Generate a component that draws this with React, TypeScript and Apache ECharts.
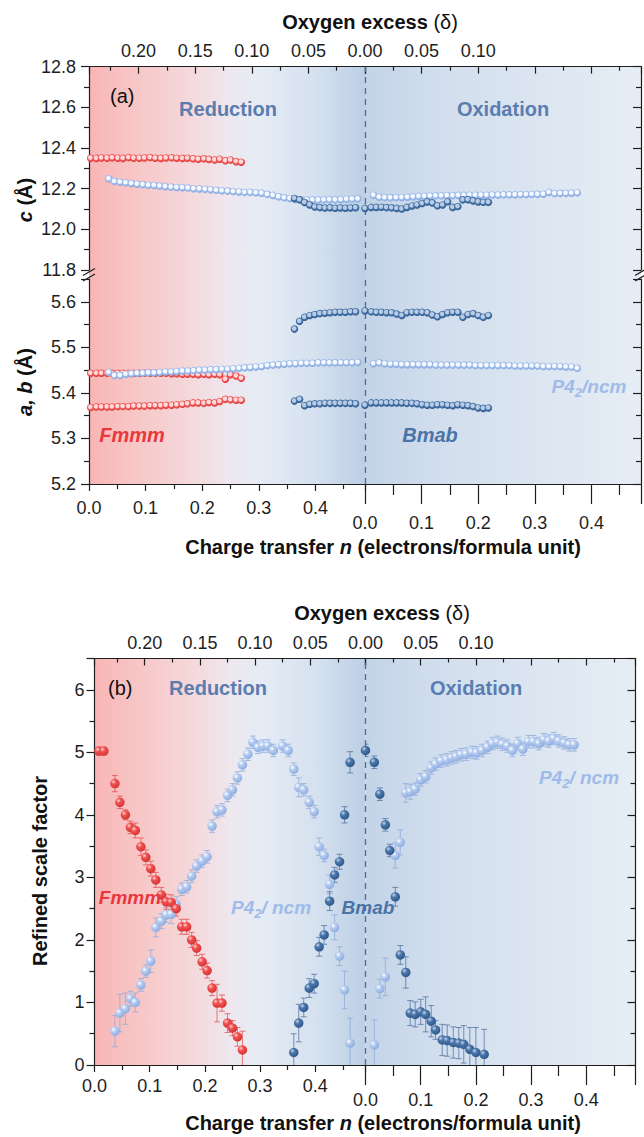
import React, { useEffect, useRef } from "react";
import * as echarts from "echarts";

// ---------------- Panel (a): lattice parameters ----------------
// Fmmm (reduction)
const aFmmmN = [0.003,0.013,0.022,0.032,0.041,0.051,0.060,0.070,0.079,0.089,
  0.098,0.108,0.117,0.127,0.136,0.146,0.155,0.165,0.174,0.184,
  0.193,0.203,0.212,0.222,0.231,0.241,0.250,0.260,0.269];
const aFmmmC = [12.350,12.349,12.351,12.350,12.352,12.350,12.349,12.353,12.350,12.350,
  12.351,12.353,12.350,12.349,12.351,12.352,12.350,12.349,12.350,12.347,
  12.345,12.347,12.344,12.341,12.345,12.337,12.341,12.333,12.330];
const aFmmmA = [5.443,5.443,5.443,5.443,5.443,5.443,5.443,5.443,5.443,5.443,
  5.443,5.443,5.443,5.443,5.443,5.442,5.442,5.441,5.441,5.441,
  5.440,5.441,5.440,5.441,5.440,5.430,5.440,5.437,5.432];
const aFmmmB = [5.368,5.369,5.369,5.369,5.369,5.370,5.370,5.370,5.371,5.371,
  5.371,5.372,5.372,5.372,5.373,5.373,5.374,5.375,5.376,5.378,
  5.378,5.377,5.379,5.378,5.381,5.386,5.385,5.384,5.384];
// P42/ncm (reduction)
const aP4RedN = [0.035,0.045,0.055,0.065,0.075,0.085,0.095,0.105,0.115,0.125,
  0.135,0.145,0.155,0.165,0.175,0.185,0.195,0.205,0.215,0.225,
  0.235,0.245,0.255,0.265,0.275,0.285,0.295,0.305,0.315,0.325,
  0.335,0.345,0.355,0.365,0.375,0.385,0.395,0.405,0.415,0.425,
  0.435,0.445,0.455,0.465,0.475];
const aP4RedC = [12.249,12.236,12.232,12.229,12.226,12.222,12.220,12.217,12.216,12.213,
  12.210,12.208,12.206,12.205,12.203,12.200,12.199,12.197,12.195,12.192,
  12.190,12.188,12.186,12.184,12.182,12.182,12.180,12.178,12.172,12.167,
  12.160,12.155,12.152,12.147,12.145,12.144,12.145,12.144,12.145,12.146,
  12.145,12.146,12.148,12.149,12.150];
const aP4RedA = [5.445,5.438,5.438,5.441,5.442,5.443,5.443,5.444,5.444,5.445,
  5.446,5.446,5.447,5.448,5.448,5.449,5.450,5.450,5.451,5.451,
  5.452,5.452,5.453,5.454,5.455,5.456,5.457,5.458,5.460,5.461,
  5.462,5.463,5.464,5.464,5.465,5.465,5.465,5.466,5.466,5.466,
  5.466,5.466,5.466,5.466,5.467];
// Bmab (reduction)
const aBmRedN = [0.363,0.372,0.381,0.390,0.399,0.408,0.417,0.426,0.435,0.444,0.453,0.462,0.471];
const aBmRedC = [12.152,12.145,12.132,12.120,12.110,12.107,12.105,12.106,12.104,12.105,12.104,12.105,12.106];
const aBmRedA = [5.540,5.557,5.566,5.570,5.572,5.574,5.575,5.576,5.577,5.577,5.577,5.578,5.578];
const aBmRedB = [5.382,5.386,5.372,5.375,5.376,5.376,5.377,5.377,5.377,5.377,5.377,5.377,5.376];
// Bmab (oxidation)
const aBmOxN = [0.000,0.011,0.020,0.029,0.038,0.047,0.056,0.065,0.074,0.083,
  0.092,0.101,0.110,0.119,0.128,0.137,0.146,0.155,0.164,0.173,
  0.182,0.191,0.200,0.209,0.218];
const aBmOxC = [12.103,12.108,12.108,12.109,12.107,12.106,12.103,12.100,12.108,12.115,
  12.120,12.127,12.135,12.130,12.116,12.120,12.136,12.108,12.112,12.145,
  12.146,12.140,12.135,12.133,12.133];
const aBmOxA = [5.580,5.578,5.577,5.577,5.576,5.576,5.573,5.570,5.576,5.577,
  5.577,5.577,5.576,5.571,5.567,5.572,5.576,5.577,5.577,5.566,
  5.572,5.574,5.570,5.566,5.570];
const aBmOxB = [5.373,5.378,5.378,5.378,5.378,5.378,5.378,5.378,5.377,5.377,
  5.376,5.374,5.373,5.373,5.374,5.374,5.373,5.372,5.374,5.373,
  5.372,5.370,5.367,5.366,5.367];
// P42/ncm (oxidation)
const aP4OxN = [0.015,0.025,0.035,0.045,0.055,0.065,0.075,0.085,0.095,0.105,
  0.115,0.125,0.135,0.145,0.155,0.165,0.175,0.185,0.195,0.205,
  0.215,0.225,0.235,0.245,0.255,0.265,0.275,0.285,0.295,0.305,
  0.315,0.325,0.335,0.345,0.355,0.365,0.375];
const aP4OxC = [12.168,12.158,12.156,12.155,12.156,12.157,12.158,12.160,12.162,12.163,
  12.164,12.165,12.165,12.166,12.166,12.167,12.167,12.168,12.168,12.168,
  12.168,12.169,12.169,12.170,12.170,12.170,12.171,12.171,12.172,12.172,
  12.173,12.182,12.176,12.177,12.177,12.178,12.180];
const aP4OxA = [5.464,5.466,5.464,5.463,5.463,5.462,5.462,5.462,5.462,5.462,
  5.462,5.461,5.461,5.461,5.461,5.461,5.461,5.461,5.460,5.460,
  5.460,5.460,5.460,5.460,5.460,5.459,5.459,5.459,5.459,5.459,
  5.458,5.458,5.458,5.458,5.457,5.457,5.454];

// ---------------- Panel (b): refined scale factor ----------------
const bFmmmN = [0.008,0.017,0.037,0.046,0.056,0.065,0.074,0.084,0.093,0.102,
  0.111,0.121,0.130,0.139,0.148,0.158,0.167,0.176,0.185,0.195,
  0.204,0.213,0.222,0.231,0.241,0.250,0.259,0.268];
const bFmmmV = [5.02,5.02,4.50,4.20,4.00,3.80,3.75,3.49,3.32,3.14,
  2.96,2.72,2.61,2.60,2.50,2.21,2.21,2.00,1.87,1.65,
  1.51,1.23,0.99,0.99,0.67,0.59,0.45,0.24];
const bFmmmE = [0.06,0.06,0.13,0.10,0.08,0.10,0.12,0.14,0.12,0.12,
  0.12,0.12,0.12,0.12,0.12,0.12,0.12,0.12,0.12,0.12,
  0.12,0.12,0.30,0.13,0.15,0.12,0.15,0.30];
const bP4RedN = [0.037,0.046,0.056,0.065,0.074,0.084,0.093,0.102,
  0.111,0.121,0.130,0.139,0.148,0.158,0.167,0.176,0.185,0.195,
  0.204,0.213,0.222,0.231,0.241,0.250,0.259,0.268,0.278,0.287,
  0.296,0.305,0.314,0.324,0.341,0.351,0.361,0.370,0.379,0.389,
  0.398,0.407,0.416,0.426,0.435,0.444,0.453,0.463];
const bP4RedV = [0.54,0.83,0.90,1.06,1.00,1.28,1.50,1.66,
  2.20,2.30,2.40,2.41,2.57,2.81,2.85,3.02,3.18,3.26,
  3.33,3.82,4.05,4.08,4.31,4.40,4.59,4.80,4.97,5.16,
  5.08,5.10,5.10,5.03,5.10,5.03,4.73,4.44,4.40,4.20,
  4.05,3.49,3.35,2.89,2.20,1.74,1.20,0.35];
const bP4RedE = [0.25,0.30,0.25,0.12,0.15,0.10,0.10,0.18,
  0.15,0.12,0.12,0.15,0.12,0.10,0.10,0.10,0.10,0.10,
  0.10,0.10,0.10,0.10,0.10,0.10,0.10,0.10,0.10,0.10,
  0.10,0.10,0.10,0.10,0.10,0.10,0.10,0.15,0.10,0.10,
  0.10,0.14,0.10,0.15,0.20,0.15,0.30,0.40];
const bBmRedN = [0.361,0.370,0.379,0.389,0.398,0.407,0.416,0.426,0.435,0.444,0.453,0.463];
const bBmRedV = [0.20,0.67,0.92,1.23,1.30,1.89,2.08,2.62,3.04,3.25,4.00,4.84];
const bBmRedE = [0.30,0.30,0.15,0.15,0.15,0.15,0.15,0.15,0.12,0.12,0.13,0.17];
const bBmOxN = [0.000,0.016,0.026,0.036,0.044,0.054,0.063,0.073,0.081,0.090,
  0.100,0.109,0.119,0.127,0.139,0.148,0.159,0.169,0.178,0.189,
  0.200,0.215];
const bBmOxV = [5.03,4.84,4.33,3.84,3.43,2.69,1.76,1.48,0.83,0.81,
  0.85,0.81,0.70,0.56,0.40,0.39,0.36,0.35,0.33,0.25,
  0.20,0.17];
const bBmOxE = [0.10,0.10,0.10,0.10,0.10,0.15,0.15,0.25,0.20,0.20,
  0.20,0.28,0.25,0.15,0.25,0.25,0.25,0.25,0.30,0.35,
  0.40,0.40];
const bP4OxN = [0.016,0.026,0.036,0.054,0.063,0.073,0.081,0.090,0.100,0.109,
  0.119,0.127,0.137,0.147,0.156,0.164,0.173,0.182,0.193,0.201,
  0.211,0.221,0.230,0.239,0.248,0.257,0.266,0.276,0.285,0.295,
  0.304,0.314,0.323,0.332,0.341,0.350,0.360,0.369,0.378];
const bP4OxV = [0.32,1.22,1.41,3.35,3.56,4.35,4.37,4.41,4.56,4.61,
  4.75,4.81,4.86,4.88,4.91,4.93,4.96,4.97,5.00,4.99,
  5.03,5.08,5.14,5.16,5.13,5.10,5.03,5.14,5.05,5.17,
  5.17,5.14,5.20,5.18,5.22,5.18,5.15,5.12,5.12];
const bP4OxE = [0.40,0.15,0.30,0.20,0.20,0.15,0.12,0.10,0.10,0.10,
  0.10,0.10,0.10,0.10,0.10,0.10,0.10,0.10,0.10,0.10,
  0.10,0.10,0.10,0.10,0.10,0.10,0.10,0.10,0.10,0.10,
  0.10,0.10,0.10,0.10,0.10,0.10,0.10,0.10,0.10];

// ---------------- Tick labels ----------------
const nTickLabels = ["0.0", "0.1", "0.2", "0.3", "0.4"];
const deltaRedLabels = ["0.00", "0.05", "0.10", "0.15", "0.20"];
const deltaOxLabels = ["0.05", "0.10"];
const cTickLabels = ["11.8", "12.0", "12.2", "12.4", "12.6", "12.8"];
const abTickLabels = ["5.2", "5.3", "5.4", "5.5", "5.6"];
const scaleTickLabels = ["0", "1", "2", "3", "4", "5", "6"];

const FONT = '"Liberation Sans", Arial, sans-serif';
const RED = "#e8383d";
const LABELBLUE = "#5a7db0";

const pick = (list: string[], dec: number) => (v: number) => {
  const s = v.toFixed(dec);
  return list.includes(s) && Math.abs(v - Number(s)) < 1e-6 ? s : "";
};

const axisLineStyle = { color: "#1e1e1e", width: 1.2 };
const labelStyle = { color: "#1e1e1e", fontSize: 18, fontFamily: FONT };

function xN(gridIndex: number, max: number, tickLen: number, minorLen: number, margin: number) {
  return {
    type: "value", gridIndex, min: 0, max, interval: 0.1, position: "bottom",
    axisLine: { show: true, onZero: false, lineStyle: axisLineStyle },
    axisTick: { show: true, inside: false, length: tickLen, lineStyle: axisLineStyle },
    minorTick: { show: true, splitNumber: 2, length: minorLen, lineStyle: axisLineStyle },
    axisLabel: { ...labelStyle, margin, formatter: pick(nTickLabels, 1), showMaxLabel: false },
    splitLine: { show: false },
  };
}
function xHidden(gridIndex: number, max: number) {
  return { type: "value", gridIndex, min: 0, max, show: false, position: "bottom" };
}
function xDelta(gridIndex: number, max: number, inverse: boolean, list: string[]) {
  return {
    type: "value", gridIndex, min: 0, max, interval: 0.05, inverse, position: "top",
    axisLine: { show: true, onZero: false, lineStyle: axisLineStyle },
    axisTick: { show: true, inside: true, length: 7, lineStyle: axisLineStyle },
    minorTick: { show: true, splitNumber: 2, length: 4, lineStyle: axisLineStyle },
    axisLabel: { ...labelStyle, margin: 7, formatter: pick(list, 2) },
    splitLine: { show: false },
  };
}
function yAx(gridIndex: number, min: number, max: number, interval: number, side: string,
  showLabel: boolean, list: string[], dec: number, margin: number) {
  return {
    type: "value", gridIndex, min, max, interval, position: side,
    axisLine: { show: true, onZero: false, lineStyle: axisLineStyle },
    axisTick: { show: true, inside: side === "right", length: 8, lineStyle: axisLineStyle },
    minorTick: { show: true, splitNumber: 2, length: 5, lineStyle: axisLineStyle },
    axisLabel: { show: showLabel, ...labelStyle, margin, formatter: pick(list, dec), showMaxLabel: max % interval < 1e-9 },
    splitLine: { show: false },
  };
}

function ballA(c0: string, c1: string, c2: string) {
  return new echarts.graphic.RadialGradient(0.45, 0.42, 0.6, [
    { offset: 0, color: c0 }, { offset: 0.4, color: c0 }, { offset: 0.62, color: c1 }, { offset: 1, color: c2 },
  ]);
}
function ballB(c0: string, c1: string, c2: string) {
  return new echarts.graphic.RadialGradient(0.35, 0.32, 0.75, [
    { offset: 0, color: c0 }, { offset: 0.35, color: c1 }, { offset: 1, color: c2 },
  ]);
}

function scat(xs: number[], ys: number[], xi: number, yi: number, size: number, fill: any, z: number, extra: any = {}) {
  return {
    type: "scatter", xAxisIndex: xi, yAxisIndex: yi, symbol: "circle", symbolSize: size,
    data: xs.map((x, i) => [x, ys[i]]), itemStyle: { color: fill, opacity: 1 }, z, silent: true,
    ...extra,
  };
}
function errBars(xs: number[], ys: number[], es: number[], xi: number, yi: number, color: string) {
  return {
    type: "custom", xAxisIndex: xi, yAxisIndex: yi, silent: true, z: 1, clip: true,
    data: xs.map((x, i) => [x, ys[i], es[i]]),
    encode: { x: 0, y: 1 },
    renderItem: (params: any, api: any) => {
      const x = api.value(0), y = api.value(1), e = api.value(2);
      const t = api.coord([x, y + e]);
      const b = api.coord([x, y - e]);
      const cw = 3;
      const st = { stroke: color, lineWidth: 1 };
      return {
        type: "group",
        children: [
          { type: "line", shape: { x1: t[0], y1: t[1], x2: b[0], y2: b[1] }, style: st },
          { type: "line", shape: { x1: t[0] - cw, y1: t[1], x2: t[0] + cw, y2: t[1] }, style: st },
          { type: "line", shape: { x1: b[0] - cw, y1: b[1], x2: b[0] + cw, y2: b[1] }, style: st },
        ],
      };
    },
  };
}

const dashMark = {
  silent: true, symbol: "none", label: { show: false },
  lineStyle: { type: [6, 5], color: "#4d6d98", width: 1.3 },
  data: [{ xAxis: 0 }],
};

// layout
const A_L = 89, A_MID = 365, A_R = 641, A_TOP = 66.7, A_BRK1 = 270, A_BRK2 = 279, A_BOT = 484;
const B_L = 94.5, B_MID = 365.5, B_R = 635.5, B_TOP = 658.5, B_BOT = 1065;
const A_XR = (A_MID - A_L) / 566, A_XO = (A_R - A_MID) / 566;
const B_XR = (B_MID - B_L) / 552, B_XO = (B_R - B_MID) / 552;

function T(x: number, y: number, text: string, font: string, fill: string, align = "center", rich?: any, rotation = 0) {
  return {
    type: "text", x, y, z: 20, rotation,
    style: { text, font, fill, align, verticalAlign: "middle", textAlign: align, textVerticalAlign: "middle", rich },
  };
}

function buildOption() {
  const redA = ballA("#ffd9d9", "#f05656", "#d93a3a");
  const lbA = ballA("#f4f8ff", "#9ebbeb", "#86a6dc");
  const dbA = ballA("#b9cce6", "#4471a6", "#2e5a8c");
  const redB = ballB("#ffd0d0", "#ef5050", "#d43030");
  const lbB = ballB("#ffffff", "#b5cbf0", "#89a9de");
  const dbB = ballB("#c4d4ea", "#4a76aa", "#2c5488");

  const grad = (stops: [number, string][]) =>
    new echarts.graphic.LinearGradient(0, 0, 1, 0, stops.map(([o, c]) => ({ offset: o, color: c })));
  const redStops: [number, string][] = [[0, "#f8b5b5"], [0.12, "#f8c2c2"], [0.35, "#f5d7d9"], [0.5, "#eee7ee"], [0.62, "#e5ecf5"], [0.82, "#d5e1ef"], [1, "#bccfe4"]];
  const oxStops: [number, string][] = [[0, "#c3d4e8"], [0.3, "#d3dfee"], [1, "#e6edf5"]];

  const titleRich = {
    b: { font: `bold 20px ${FONT}`, fill: "#111" },
    i: { font: `italic bold 20px ${FONT}`, fill: "#111" },
    n: { font: `20px ${FONT}`, fill: "#111" },
  };
  const p4Rich = (color: string) => ({
    a: { font: `italic bold 19px ${FONT}`, fill: color, lineHeight: 26, verticalAlign: "middle" },
    s: { font: `italic bold 13px ${FONT}`, fill: color, lineHeight: 26, verticalAlign: "bottom" },
  });

  const breakLine = (x: number, y: number) => ({
    type: "line", z: 20, shape: { x1: x - 6, y1: y + 3.5, x2: x + 6, y2: y - 3.5 },
    style: { stroke: "#1e1e1e", lineWidth: 1.2 },
  });

  return {
    animation: false,
    textStyle: { fontFamily: FONT },
    grid: [
      { left: A_L, top: A_TOP, width: A_MID - A_L, height: A_BRK1 - A_TOP },
      { left: A_MID, top: A_TOP, width: A_R - A_MID, height: A_BRK1 - A_TOP },
      { left: A_L, top: A_BRK2, width: A_MID - A_L, height: A_BOT - A_BRK2 },
      { left: A_MID, top: A_BRK2, width: A_R - A_MID, height: A_BOT - A_BRK2 },
      { left: B_L, top: B_TOP, width: B_MID - B_L, height: B_BOT - B_TOP },
      { left: B_MID, top: B_TOP, width: B_R - B_MID, height: B_BOT - B_TOP },
    ],
    xAxis: [
      xHidden(0, A_XR),                          // 0
      xDelta(0, A_XR / 2, true, deltaRedLabels),  // 1
      xHidden(1, A_XO),                          // 2
      xDelta(1, A_XO / 2, false, deltaOxLabels),  // 3
      xN(2, A_XR, 7, 5, 15),                     // 4
      xN(3, A_XO, 20, 11, 30),                   // 5
      xN(4, B_XR, 7, 5, 12),                     // 6
      xDelta(4, B_XR / 2, true, deltaRedLabels),  // 7
      xN(5, B_XO, 20, 11, 26),                   // 8
      xDelta(5, B_XO / 2, false, deltaOxLabels),  // 9
    ],
    yAxis: [
      yAx(0, 11.8, 12.8, 0.2, "left", true, cTickLabels, 1, 13),
      yAx(1, 11.8, 12.8, 0.2, "right", false, cTickLabels, 1, 8),
      yAx(2, 5.2, 5.65, 0.1, "left", true, abTickLabels, 1, 13),
      yAx(3, 5.2, 5.65, 0.1, "right", false, abTickLabels, 1, 8),
      yAx(4, 0, 6.5, 1, "left", true, scaleTickLabels, 0, 10),
      yAx(5, 0, 6.5, 1, "right", false, scaleTickLabels, 0, 8),
    ],
    series: [
      // panel (a) upper: c
      scat(aFmmmN, aFmmmC, 0, 0, 7.5, redA, 3),
      scat(aP4RedN, aP4RedC, 0, 0, 7.5, lbA, 4),
      scat(aBmRedN, aBmRedC, 0, 0, 7.5, dbA, 5),
      scat(aP4OxN, aP4OxC, 2, 1, 7.5, lbA, 4),
      scat(aBmOxN, aBmOxC, 2, 1, 7.5, dbA, 5, { markLine: dashMark }),
      // panel (a) lower: a, b
      scat(aFmmmN, aFmmmA, 4, 2, 7.5, redA, 3),
      scat(aFmmmN, aFmmmB, 4, 2, 7.5, redA, 3),
      scat(aP4RedN, aP4RedA, 4, 2, 7.5, lbA, 4),
      scat(aBmRedN, aBmRedA, 4, 2, 7.5, dbA, 5),
      scat(aBmRedN, aBmRedB, 4, 2, 7.5, dbA, 5),
      scat(aP4OxN, aP4OxA, 5, 3, 7.5, lbA, 4),
      scat(aBmOxN, aBmOxA, 5, 3, 7.5, dbA, 5, { markLine: dashMark }),
      scat(aBmOxN, aBmOxB, 5, 3, 7.5, dbA, 5),
      // panel (b) error bars
      errBars(bP4RedN, bP4RedV, bP4RedE, 6, 4, "rgba(140,170,220,0.75)"),
      errBars(bFmmmN, bFmmmV, bFmmmE, 6, 4, "rgba(225,80,80,0.75)"),
      errBars(bBmRedN, bBmRedV, bBmRedE, 6, 4, "rgba(70,105,155,0.7)"),
      errBars(bP4OxN, bP4OxV, bP4OxE, 8, 5, "rgba(140,170,220,0.75)"),
      errBars(bBmOxN, bBmOxV, bBmOxE, 8, 5, "rgba(70,105,155,0.7)"),
      // panel (b) points
      scat(bP4RedN, bP4RedV, 6, 4, 9.5, lbB, 3),
      scat(bFmmmN, bFmmmV, 6, 4, 9.5, redB, 4),
      scat(bBmRedN, bBmRedV, 6, 4, 9.5, dbB, 5),
      scat(bP4OxN, bP4OxV, 8, 5, 9.5, lbB, 3),
      scat(bBmOxN, bBmOxV, 8, 5, 9.5, dbB, 5, { markLine: dashMark }),
    ],
    graphic: [
      { type: "rect", z: -10, shape: { x: A_L, y: A_TOP, width: A_MID - A_L, height: A_BOT - A_TOP }, style: { fill: grad(redStops) } },
      { type: "rect", z: -10, shape: { x: A_MID, y: A_TOP, width: A_R - A_MID, height: A_BOT - A_TOP }, style: { fill: grad(oxStops) } },
      { type: "rect", z: -10, shape: { x: B_L, y: B_TOP, width: B_MID - B_L, height: B_BOT - B_TOP }, style: { fill: grad(redStops) } },
      { type: "rect", z: -10, shape: { x: B_MID, y: B_TOP, width: B_R - B_MID, height: B_BOT - B_TOP }, style: { fill: grad(oxStops) } },
      breakLine(A_L, 272), breakLine(A_L, 277.5), breakLine(A_R, 272), breakLine(A_R, 277.5),
      // titles
      T(370, 22, "{b|Oxygen excess }{n|(δ)}", `bold 20px ${FONT}`, "#111", "center", titleRich),
      T(383, 547, "{b|Charge transfer }{i|n}{b| (electrons/formula unit)}", `bold 20px ${FONT}`, "#111", "center", titleRich),
      T(382, 613, "{b|Oxygen excess }{n|(δ)}", `bold 20px ${FONT}`, "#111", "center", titleRich),
      T(383, 1123, "{b|Charge transfer }{i|n}{b| (electrons/formula unit)}", `bold 20px ${FONT}`, "#111", "center", titleRich),
      T(25, 200, "{i|c}{b| (Å)}", `bold 20px ${FONT}`, "#111", "center", titleRich, Math.PI / 2),
      T(25, 382, "{i|a, b}{b| (Å)}", `bold 20px ${FONT}`, "#111", "center", titleRich, Math.PI / 2),
      T(40, 871, "Refined scale factor", `bold 20px ${FONT}`, "#111", "center", undefined, Math.PI / 2),
      // panel (a) annotations
      T(110, 96, "(a)", `20px ${FONT}`, "#111", "left"),
      T(228, 109, "Reduction", `bold 20px ${FONT}`, LABELBLUE),
      T(503, 109, "Oxidation", `bold 20px ${FONT}`, LABELBLUE),
      T(132, 435, "Fmmm", `italic bold 20px ${FONT}`, RED),
      T(430, 435, "Bmab", `italic bold 20px ${FONT}`, "#4a74a8"),
      T(589, 386, "{a|P4}{s|2}{a|/ncm}", `italic bold 19px ${FONT}`, "#a0bbe8", "center", p4Rich("#a0bbe8")),
      // panel (b) annotations
      T(108, 688, "(b)", `20px ${FONT}`, "#111", "left"),
      T(218, 688, "Reduction", `bold 20px ${FONT}`, LABELBLUE),
      T(476, 688, "Oxidation", `bold 20px ${FONT}`, LABELBLUE),
      T(130, 897, "Fmmm", `italic bold 19px ${FONT}`, RED),
      T(271, 907, "{a|P4}{s|2}{a|/ ncm}", `italic bold 19px ${FONT}`, "#a0bbe8", "center", p4Rich("#a0bbe8")),
      T(368, 907, "Bmab", `italic bold 19px ${FONT}`, "#4a74a8"),
      T(579, 777, "{a|P4}{s|2}{a|/ ncm}", `italic bold 19px ${FONT}`, "#a0bbe8", "center", p4Rich("#a0bbe8")),
    ],
  };
}

export default function App() {
  const ref = useRef<HTMLDivElement>(null);
  useEffect(() => {
    document.body.style.margin = "0";
    if (!ref.current) return;
    const chart = echarts.init(ref.current, undefined, { renderer: "svg" });
    chart.setOption(buildOption() as any);
    return () => chart.dispose();
  }, []);
  return <div ref={ref} style={{ width: 644, height: 1137, background: "#fff" }} />;
}
